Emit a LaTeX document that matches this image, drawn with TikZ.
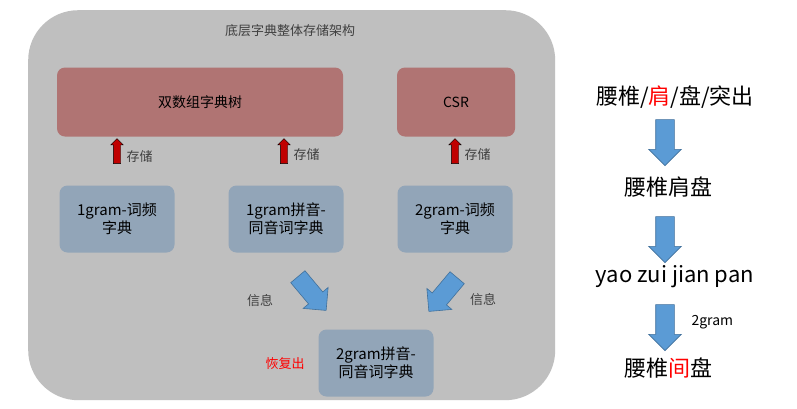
\documentclass[tikz,border=0pt]{standalone}
\usepackage{fontspec}
\setmainfont{Noto Sans CJK SC}
\usetikzlibrary{shapes.arrows}
\definecolor{outerg}{HTML}{BFBFBF}
\definecolor{redbox}{HTML}{B07473}
\definecolor{bluebox}{HTML}{92A5B8}
\definecolor{bluearr}{HTML}{5B9BD5}
\definecolor{bluearrd}{HTML}{41719C}
\definecolor{redarr}{HTML}{C00000}
\definecolor{txtg}{HTML}{404040}
\begin{document}
\begin{tikzpicture}[x=1pt,y=-1pt,
  rbox/.style={fill=redbox,rounded corners=8pt,minimum height=69pt,font=\fontsize{14}{16}\selectfont},
  bbox/.style={fill=bluebox,rounded corners=8pt,minimum width=115pt,minimum height=67pt,align=center,font=\fontsize{15}{18}\selectfont},
  uparr/.style={single arrow,fill=redarr,draw=black,line width=0.4pt,rotate=90,minimum height=25pt,minimum width=12pt,single arrow head extend=2.5pt,inner xsep=0pt,inner ysep=3.5pt},
  fat/.style={single arrow,fill=bluearr,draw=bluearrd,line width=0.6pt,minimum height=44pt,minimum width=32pt,single arrow head extend=7pt,inner xsep=0pt,inner ysep=9pt},
  lbl/.style={text=txtg,font=\fontsize{13}{15}\selectfont},
  big/.style={font=\fontsize{22}{26}\selectfont}]
\useasboundingbox (0,0) rectangle (797,408);
\fill[white] (0,0) rectangle (797,408);
\node[fill=outerg,rounded corners=50pt,minimum width=527pt,minimum height=390pt,anchor=north west] (outer) at (28,10) {};
\node[lbl] (title) at (290,31) {底层字典整体存储架构};
\node[rbox,minimum width=286pt] (dat) at (200,102) {双数组字典树};
\node[rbox,minimum width=118pt] (csr) at (456,102) {CSR};
\node[bbox] (b1) at (117,219) {1gram-词频\\字典};
\node[bbox] (b2) at (286,219) {1gram拼音-\\同音词字典};
\node[bbox] (b3) at (455,219) {2gram-词频\\字典};
\node[bbox] (b4) at (376,363) {2gram拼音-\\同音词字典};
\node[uparr] (u1) at (117,153) {};
\node[uparr] (u2) at (284,153) {};
\node[uparr] (u3) at (455,153) {};
\node[lbl,anchor=west] at (123,157) {存储};
\node[lbl,anchor=west] at (290,155) {存储};
\node[lbl,anchor=west] at (461,155) {存储};
\node[fat,rotate=-50] (f1) at (309,290) {};
\node[fat,rotate=-130] (f2) at (446,291) {};
\node[lbl] at (260,301) {信息};
\node[lbl] at (483,300) {信息};
\node[lbl,text=red] at (285,364) {恢复出};
\node[big] (r1) at (675,97) {腰椎/\textcolor{red}{肩}/盘/突出};
\node[big] (r2) at (668,187) {腰椎肩盘};
\node[big] (r3) at (675,277) {yao zui jian pan};
\node[big] (r4) at (668,368) {腰椎\textcolor{red}{间}盘};
\node[fat,rotate=-90,minimum height=46pt] (d1) at (665,138) {};
\node[fat,rotate=-90,minimum height=46pt] (d2) at (665,235) {};
\node[fat,rotate=-90,minimum height=46pt] (d3) at (665,323) {};
\node[font=\fontsize{14}{16}\selectfont,anchor=west] at (688,322) {2gram};
\end{tikzpicture}
\end{document}
